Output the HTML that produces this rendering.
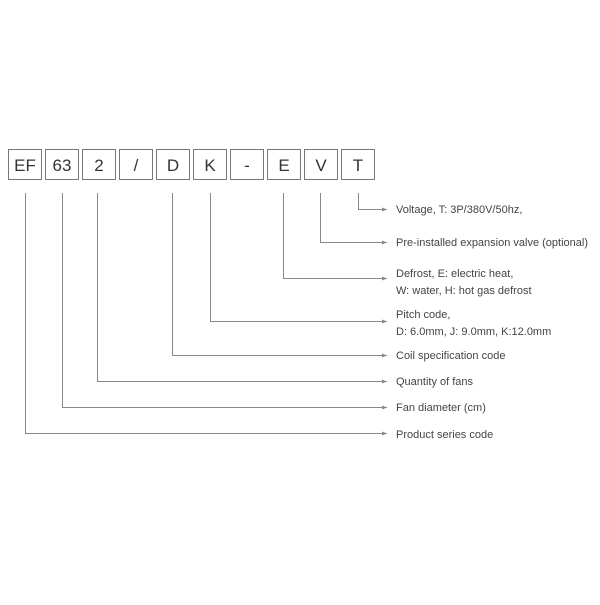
<!DOCTYPE html>
<html><head><style>
body{margin:0;background:#fff;}
svg text{font-family:"Liberation Sans",sans-serif;}
</style></head><body>
<svg width="600" height="600" xmlns="http://www.w3.org/2000/svg">
<defs><marker id="a" markerWidth="6" markerHeight="6" refX="5" refY="3" orient="auto"><path d="M0,1 L5,3 L0,5 z" fill="#888"/></marker></defs>
<g fill="none" stroke="#777" stroke-width="1">
<rect x="8.5" y="149.5" width="33" height="30"/>
<rect x="45.5" y="149.5" width="33" height="30"/>
<rect x="82.5" y="149.5" width="33" height="30"/>
<rect x="119.5" y="149.5" width="33" height="30"/>
<rect x="156.5" y="149.5" width="33" height="30"/>
<rect x="193.5" y="149.5" width="33" height="30"/>
<rect x="230.5" y="149.5" width="33" height="30"/>
<rect x="267.5" y="149.5" width="33" height="30"/>
<rect x="304.5" y="149.5" width="33" height="30"/>
<rect x="341.5" y="149.5" width="33" height="30"/>
</g>
<g font-size="17" fill="#333" text-anchor="middle">
<text x="25" y="171">EF</text><text x="62" y="171">63</text><text x="99" y="171">2</text>
<text x="136" y="171">/</text><text x="173" y="171">D</text><text x="210" y="171">K</text>
<text x="247" y="171">-</text><text x="284" y="171">E</text><text x="321" y="171">V</text><text x="358" y="171">T</text>
</g>
<g fill="none" stroke="#888" stroke-width="1" marker-end="url(#a)">
<path d="M358.5 193 V209.5 H387"/>
<path d="M320.5 193 V242.5 H387"/>
<path d="M283.5 193 V278.5 H387"/>
<path d="M210.5 193 V321.5 H387"/>
<path d="M172.5 193 V355.5 H387"/>
<path d="M97.5 193 V381.5 H387"/>
<path d="M62.5 193 V407.5 H387"/>
<path d="M25.5 193 V433.5 H387"/>
</g>
<g font-size="11" fill="#444">
<text x="396" y="213">Voltage, T: 3P/380V/50hz,</text>
<text x="396" y="246">Pre-installed expansion valve (optional)</text>
<text x="396" y="277">Defrost, E: electric heat,</text>
<text x="396" y="294">W: water, H: hot gas defrost</text>
<text x="396" y="318">Pitch code,</text>
<text x="396" y="335">D: 6.0mm, J: 9.0mm, K:12.0mm</text>
<text x="396" y="359">Coil specification code</text>
<text x="396" y="385">Quantity of fans</text>
<text x="396" y="411">Fan diameter (cm)</text>
<text x="396" y="438">Product series code</text>
</g>
</svg>
</body></html>
